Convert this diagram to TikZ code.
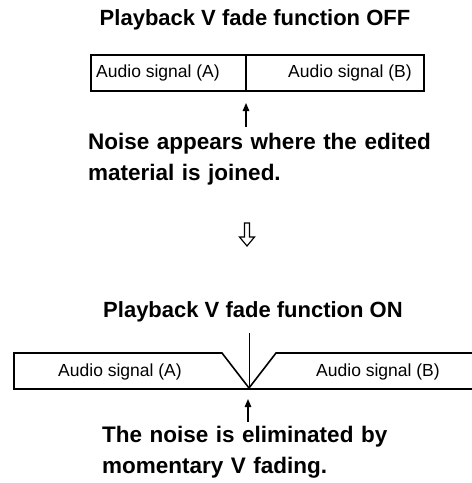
\documentclass[tikz,border=0pt]{standalone}
\usepackage{fontspec}
\setmainfont{Liberation Sans}
\usetikzlibrary{arrows.meta}
\begin{document}
\begin{tikzpicture}[x=1pt,y=-1pt,
  title/.style={font=\fontsize{22}{26}\selectfont\bfseries, inner sep=0pt},
  body/.style={font=\fontsize{22.5}{30.5}\selectfont\bfseries, align=left, inner sep=0pt, anchor=west},
  sig/.style={font=\fontsize{17.5}{20}\selectfont, inner sep=0pt},
  border/.style={line width=1.6pt},
  pointer/.style={line width=1.3pt, -{Triangle[length=8pt,width=6.5pt]}}]
\useasboundingbox (0,0) rectangle (472,483);
% --- OFF ---
\node[title] (t1) at (255,20) {Playback V fade function OFF};
\draw[border] (91,55) rectangle (424,91);
\coordinate (j1) at (246,91);
\draw[border] (246,55) -- (j1);
\node[sig] (a1) at (158,73) {Audio signal (A)};
\node[sig] (b1) at (350,73) {Audio signal (B)};
\node[body, text width=380pt] (n1) at (88,159) {Noise appears where the edited\\material is joined.};
\coordinate (p1) at (246,127);
\coordinate (q1) at (246,103);
\draw[pointer] (p1) -- (q1);
% --- hollow arrow ---
\draw[line width=1.2pt, line join=miter]
  (244.5,223) -- (249.5,223) -- (249.5,237) -- (254.5,237) -- (247,246)
  -- (239.5,237) -- (244.5,237) -- cycle;
% --- ON ---
\node[title] (t2) at (253,312) {Playback V fade function ON};
\coordinate (v) at (249,388);
\draw[border, line join=miter] (472,353) -- (276,353) -- (v) -- (222,353) -- (14,353) -- (14,389) -- (472,389);
\coordinate (vt) at (249,333);
\draw[line width=1pt] (vt) -- (v);
\node[sig] (a2) at (120,372) {Audio signal (A)};
\node[sig] (b2) at (378,372) {Audio signal (B)};
\coordinate (p2) at (248,422);
\coordinate (q2) at (248,399);
\draw[pointer] (p2) -- (q2);
\node[body, text width=380pt] (n2) at (102,452) {The noise is eliminated by\\momentary V fading.};
\end{tikzpicture}
\end{document}
